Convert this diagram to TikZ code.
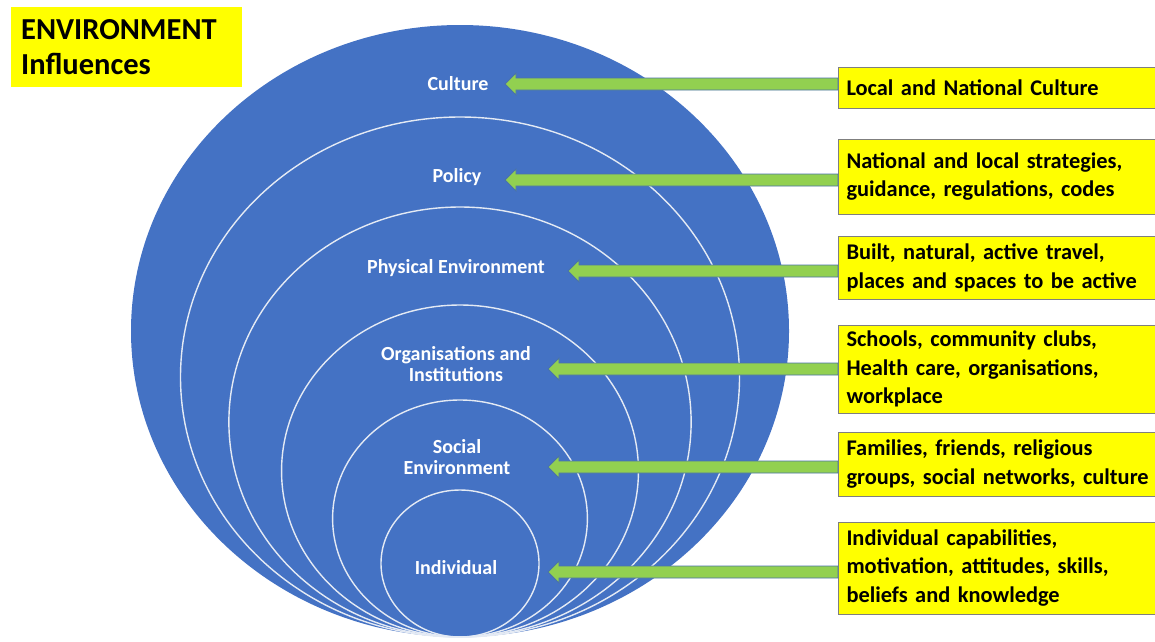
\documentclass[tikz,border=0pt]{standalone}
\usepackage{fontspec}
\setmainfont{Carlito}
\usetikzlibrary{calc}
\definecolor{ringblue}{HTML}{4472C4}
\definecolor{ringline}{HTML}{E4EAF4}
\definecolor{arrowgreen}{HTML}{92D050}
\definecolor{arrowedge}{HTML}{4A72A8}
\definecolor{boxyellow}{HTML}{FFFF00}
\definecolor{boxedge}{HTML}{7F7F7F}
\def\ringbottom{637}
\def\ringratio{1.075}
\def\shafthalf{6}
\def\headhalf{11}
\def\headlen{11}
\newcommand{\influencearrow}[2]{%
	\coordinate (from) at (#2 -| #1.west);
	\filldraw[arrow] ($(from)+(0,-\shafthalf)$) -- ($(#2)+(\headlen,-\shafthalf)$) -- ($(#2)+(\headlen,-\headhalf)$) -- (#2) -- ($(#2)+(\headlen,\headhalf)$) -- ($(#2)+(\headlen,\shafthalf)$) -- ($(from)+(0,\shafthalf)$) -- cycle;}

\begin{document}
\begin{tikzpicture}[x=1pt, y=-1pt]
	\tikzstyle{ring} = [draw=ringline, line width=1.4pt]
	\tikzstyle{ringlabel} = [text=white, align=center, inner sep=0pt, font=\fontsize{20}{21}\selectfont\bfseries]
	\tikzstyle{influence} = [draw=boxedge, line width=1pt, fill=boxyellow, anchor=west, text width=320pt, inner xsep=8pt, inner ysep=0pt, align=left, font=\fontsize{22.4}{28.5}\selectfont\bfseries]
	\tikzstyle{arrow} = [fill=arrowgreen, draw=arrowedge, line width=0.9pt]

	\useasboundingbox (0,0) rectangle (1155,641);

	%%Rings, all touching at the bottom
	\fill[ringblue] (460, 331) ellipse (329 and 306);
	\foreach \crest in {117, 207, 305, 400, 490}
		\draw[ring] (460, {(\ringbottom+\crest)/2}) ellipse ({\ringratio*(\ringbottom-\crest)/2} and {(\ringbottom-\crest)/2});

	%%Ring labels
	\node[ringlabel] (culture) at (458, 84) {Culture};
	\node[ringlabel] (policy) at (457, 177) {Policy};
	\node[ringlabel] (physical) at (456, 268) {Physical Environment};
	\node[ringlabel] (organisations) at (456, 364) {Organisations and\\Institutions};
	\node[ringlabel] (social) at (457, 457) {Social\\Environment};
	\node[ringlabel] (individual) at (456, 568) {Individual};

	%%Arrow tips
	\coordinate (tculture) at (505, 84);
	\coordinate (tpolicy) at (505, 180);
	\coordinate (tphysical) at (568, 271);
	\coordinate (torganisations) at (548, 369);
	\coordinate (tsocial) at (548, 467);
	\coordinate (tindividual) at (548, 572);

	%%Influence boxes
	\node[influence, minimum height=41pt] (bculture) at (838, 87.5) {Local and National Culture};
	\node[influence, minimum height=75pt] (bpolicy) at (838, 176.5) {National and local strategies,\\guidance, regulations, codes};
	\node[influence, minimum height=63pt] (bphysical) at (838, 268) {Built, natural, active travel,\\places and spaces to be active};
	\node[influence, minimum height=88pt] (borganisations) at (838, 369) {Schools, community clubs,\\Health care, organisations,\\workplace};
	\node[influence, minimum height=64pt] (bsocial) at (838, 464) {Families, friends, religious\\groups, social networks, culture};
	\node[influence, minimum height=92pt] (bindividual) at (838, 568) {Individual capabilities,\\motivation, attitudes, skills,\\beliefs and knowledge};

	\foreach \b/\t in {bculture/tculture, bpolicy/tpolicy, bphysical/tphysical, borganisations/torganisations, bsocial/tsocial, bindividual/tindividual}
		\influencearrow{\b}{\t};

	%%Title
	\node[fill=boxyellow, anchor=north west, minimum width=231pt, minimum height=80pt, text width=211pt, inner xsep=10pt, align=left, font=\fontsize{30.5}{35}\selectfont\bfseries] (title) at (11, 7) {ENVIRONMENT\\Influences};
\end{tikzpicture}
\end{document}
